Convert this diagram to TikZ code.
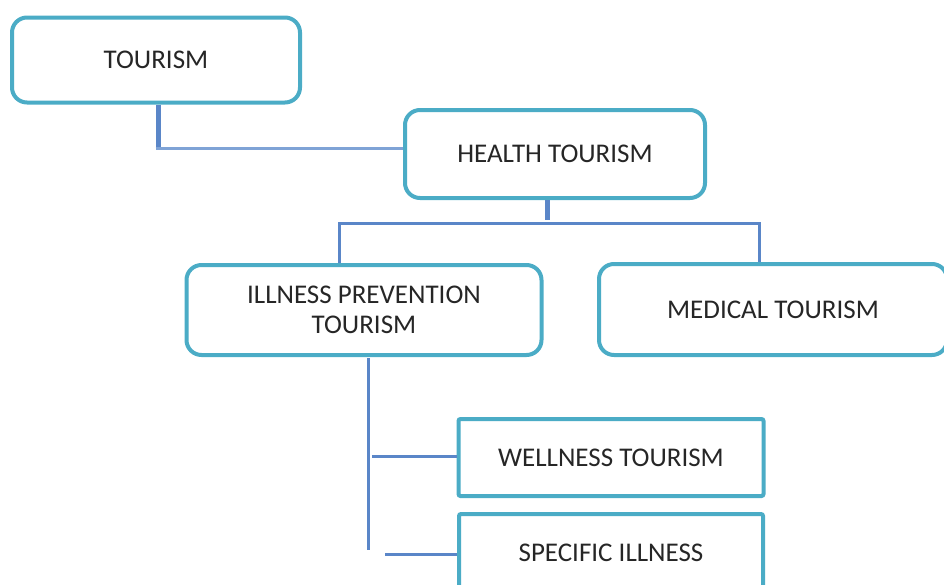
\documentclass[tikz,border=0pt]{standalone}
\usepackage{fontspec}
\setmainfont{Carlito}
\definecolor{boxline}{HTML}{4BACC6}
\definecolor{linkdark}{HTML}{5A86C8}
\definecolor{linklight}{HTML}{7FA3D6}
\definecolor{txt}{HTML}{262626}
\begin{document}
\begin{tikzpicture}[x=1pt,y=-1pt,
  every node/.style={text=txt,font=\fontsize{27}{30}\selectfont,align=center,inner sep=0pt},
  roundbox/.style={draw=boxline,line width=4pt,rounded corners=15pt,fill=white},
  flatbox/.style={draw=boxline,line width=4pt,rounded corners=2pt,fill=white},
  link/.style={draw=linkdark,line width=3pt},
  thicklink/.style={draw=linkdark,line width=5pt},
  lightlink/.style={draw=linklight,line width=3pt}]
\useasboundingbox (0,0) rectangle (944,584);

% boxes
\node[roundbox,minimum width=288pt,minimum height=85pt] (tour) at (156,60) {TOURISM};
\node[roundbox,minimum width=300pt,minimum height=88pt] (health) at (555,154) {HEALTH TOURISM};
\node[roundbox,minimum width=355pt,minimum height=90pt] (prev) at (364,310) {ILLNESS PREVENTION\\TOURISM};
\node[roundbox,minimum width=348pt,minimum height=91pt] (med) at (773,309.5) {MEDICAL TOURISM};
\node[flatbox,minimum width=305pt,minimum height=77pt] (well) at (611,457.5) {WELLNESS TOURISM};
\node[flatbox,minimum width=304pt,minimum height=78pt] (spec) at (611,553) {SPECIFIC ILLNESS};

% junction points
\coordinate (tj) at (158,148);
\coordinate (hj) at (547,223);
\coordinate (hl) at (339,223);
\coordinate (hr) at (759,223);
\coordinate (pv) at (368,358);
\coordinate (pb) at (368,550);
\coordinate (w0) at (372,456);
\coordinate (s0) at (385,554);

% TOURISM -> HEALTH TOURISM
\draw[thicklink] (tour.south -| tj) -- (tj);
\draw[lightlink] ([xshift=-2.5pt]tj) -- (tj -| health.west);

% HEALTH TOURISM -> two branches
\draw[thicklink] (health.south -| hj) -- ([yshift=3pt]hj);
\draw[link,line cap=rect] (hl) -- (hr);
\draw[link] (hl) -- (hl |- prev.north);
\draw[link] (hr) -- (hr |- med.north);

% ILLNESS PREVENTION -> sub-branches
\draw[link] (pv) -- (pb);
\draw[link] (w0) -- (w0 -| well.west);
\draw[link] (s0) -- (s0 -| spec.west);
\end{tikzpicture}
\end{document}
